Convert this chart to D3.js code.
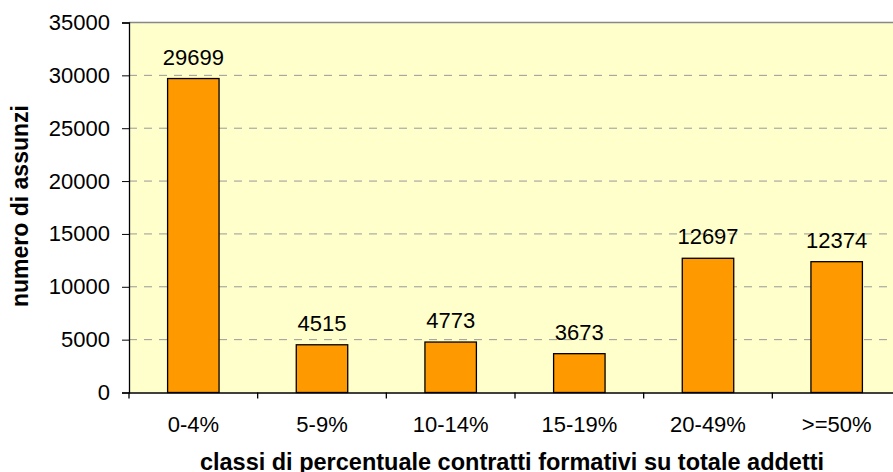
<!DOCTYPE html>
<html>
<head>
<meta charset="utf-8">
<script src="https://cdn.jsdelivr.net/npm/d3@7"></script>
<style>
  body { margin: 0; background: #fff; }
  text { font-family: "Liberation Sans", Arial, sans-serif; }
</style>
</head>
<body>
<svg class="chart" width="893" height="472"></svg>
<script>
const categories = ["0-4%", "5-9%", "10-14%", "15-19%", "20-49%", ">=50%"];
const values = [29699, 4515, 4773, 3673, 12697, 12374];
const yTicks = [0, 5000, 10000, 15000, 20000, 25000, 30000, 35000];

const svg = d3.select(".chart");
const plotLeft = 129, plotRight = 901, plotTop = 22.5, plotBottom = 392.5;
const fontSize = 22;

const x = d3.scaleBand().domain(categories).range([plotLeft, plotRight]).padding(0);
const y = d3.scaleLinear().domain([0, 35000]).range([plotBottom, plotTop]);
const barW = x.bandwidth() * 0.4;

// plot background
svg.append("rect")
  .attr("x", plotLeft).attr("y", plotTop)
  .attr("width", plotRight - plotLeft).attr("height", plotBottom - plotTop)
  .attr("fill", "#ffffcc");

// grid
svg.append("g")
  .selectAll("line")
  .data(yTicks.filter((d) => d > 0 && d < 35000))
  .enter()
  .append("line")
  .attr("x1", plotLeft).attr("x2", plotRight)
  .attr("y1", (d) => y(d)).attr("y2", (d) => y(d))
  .attr("stroke", "#999")
  .attr("stroke-width", 1)
  .attr("stroke-dasharray", "8,7");

svg.append("line")
  .attr("x1", plotLeft).attr("x2", plotRight)
  .attr("y1", plotTop).attr("y2", plotTop)
  .attr("stroke", "#888").attr("stroke-width", 1.5);

// bars
svg.append("g")
  .selectAll("rect")
  .data(values)
  .enter()
  .append("rect")
  .attr("x", (d, i) => x(categories[i]) + x.bandwidth() / 2 - barW / 2)
  .attr("y", (d) => y(d))
  .attr("width", barW)
  .attr("height", (d) => plotBottom - y(d))
  .attr("fill", "#ff9900")
  .attr("stroke", "#000")
  .attr("stroke-width", 1.3);

svg.append("g")
  .selectAll("text")
  .data(values)
  .enter()
  .append("text")
  .attr("x", (d, i) => x(categories[i]) + x.bandwidth() / 2)
  .attr("y", (d) => y(d) - 14)
  .attr("text-anchor", "middle")
  .attr("font-size", fontSize)
  .text((d) => d);

// y axis
const yAxis = svg.append("g")
  .attr("transform", `translate(${plotLeft},0)`)
  .call(d3.axisLeft(y).tickValues(yTicks).tickSize(7).tickPadding(12).tickFormat(d3.format("d")));
yAxis.select(".domain").attr("stroke", "#000").attr("stroke-width", 1.3);
yAxis.selectAll("text").attr("font-size", fontSize).attr("fill", "#000")
  .style("font-family", "'Liberation Sans', Arial, sans-serif");

// x axis
const xAxis = svg.append("g")
  .attr("transform", `translate(0,${plotBottom})`)
  .call(d3.axisBottom(x).tickSize(0).tickPadding(24));
xAxis.select(".domain").attr("stroke", "#000").attr("stroke-width", 1.3);
xAxis.selectAll("text").attr("font-size", fontSize).attr("fill", "#000")
  .style("font-family", "'Liberation Sans', Arial, sans-serif");

svg.append("g")
  .selectAll("line")
  .data(categories)
  .enter()
  .append("line")
  .attr("x1", (d) => x(d)).attr("x2", (d) => x(d))
  .attr("y1", plotBottom).attr("y2", plotBottom + 6)
  .attr("stroke", "#000").attr("stroke-width", 1.3);

// titles
svg.append("text")
  .attr("x", (plotLeft + plotRight) / 2 - 3)
  .attr("y", 470)
  .attr("text-anchor", "middle")
  .attr("font-size", 23.5)
  .attr("font-weight", "bold")
  .text("classi di percentuale contratti formativi su totale addetti");

// y title is cut off at the top like in the original
svg.append("clipPath").attr("id", "ytclip")
  .append("rect").attr("x", 0).attr("y", 106).attr("width", 60).attr("height", 300);

svg.append("g")
  .attr("clip-path", "url(#ytclip)")
  .append("text")
  .attr("transform", "translate(28,307) rotate(-90)")
  .attr("font-size", 23)
  .attr("font-weight", "bold")
  .text("numero di assunzioni");
</script>
</body>
</html>
